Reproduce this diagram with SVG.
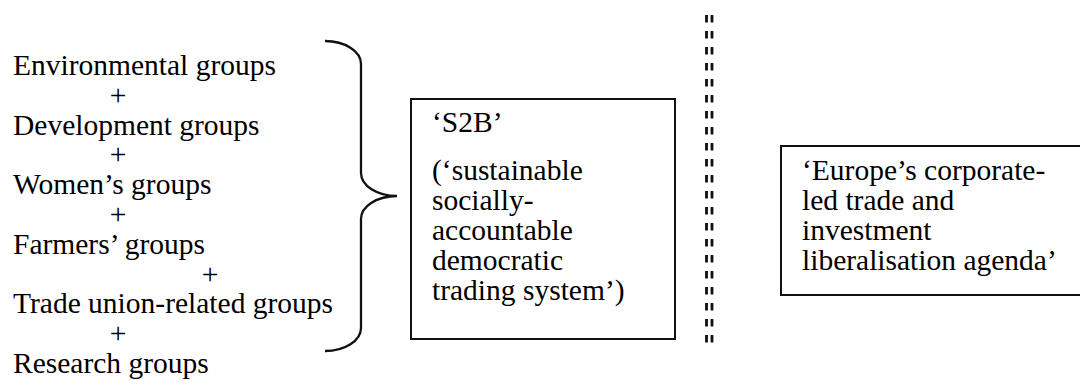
<svg xmlns="http://www.w3.org/2000/svg" width="1080" height="381" viewBox="0 0 1080 381">
<style>
.t{font-size:29.5px;fill:#000}
.plus{text-anchor:middle}
.box{fill:none;stroke:#111;stroke-width:2}
.brace{fill:none;stroke:#111;stroke-width:2.3}
.dash{stroke:#111;stroke-width:2.8;stroke-dasharray:7.5 8.5}
</style>
<rect width="1080" height="381" fill="#fff"/>
<g id="groups" class="t" font-family="'Liberation Serif', 'Times New Roman', serif" font-size="29.5">
<text x="13" y="75">Environmental groups</text>
<text class="plus" x="118" y="104.8">+</text>
<text x="13" y="134.6">Development groups</text>
<text class="plus" x="118" y="164.4">+</text>
<text x="13" y="194.2">Women’s groups</text>
<text class="plus" x="118" y="224">+</text>
<text x="13" y="253.8">Farmers’ groups</text>
<text class="plus" x="210" y="283.6">+</text>
<text x="13" y="313.4">Trade union-related groups</text>
<text class="plus" x="118" y="343.2">+</text>
<text x="13" y="373">Research groups</text>
</g>
<g id="brace">
<path class="brace" d="M325,41 A36,23 0 0 1 361,64 L361,173 A36,23 0 0 0 397,196 A36,23 0 0 0 361,219 L361,328 A36,23 0 0 1 325,351"/>
</g>
<g id="s2b">
<rect class="box" x="411" y="99" width="264" height="240"/>
<g class="t" font-family="'Liberation Serif', 'Times New Roman', serif" font-size="29.5">
<text x="432" y="132">‘S2B’</text>
<text x="432" y="180">(‘sustainable</text>
<text x="432" y="210">socially-</text>
<text x="432" y="240">accountable</text>
<text x="432" y="270">democratic</text>
<text x="432" y="300">trading system’)</text>
</g>
</g>
<g id="divider">
<line class="dash" x1="706.5" y1="15" x2="706.5" y2="343"/>
<line class="dash" x1="712" y1="15" x2="712" y2="343"/>
</g>
<g id="europe">
<rect class="box" x="781" y="146" width="310" height="149"/>
<g class="t" font-family="'Liberation Serif', 'Times New Roman', serif" font-size="29.5">
<text x="802" y="180">‘Europe’s corporate-</text>
<text x="802" y="210">led trade and</text>
<text x="802" y="240">investment</text>
<text x="802" y="270">liberalisation agenda’</text>
</g>
</g>
<g id="connectors"></g>
</svg>
